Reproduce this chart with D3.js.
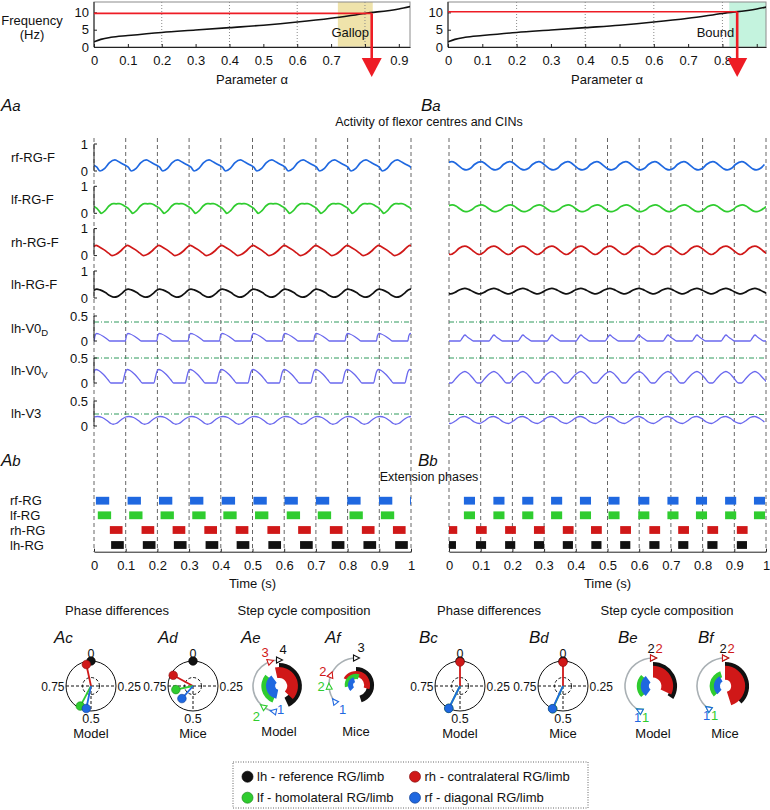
<!DOCTYPE html>
<html><head><meta charset="utf-8">
<script src="https://cdn.jsdelivr.net/npm/d3@7"></script>
<style>
body{margin:0;background:#fff;}
text{font-family:"Liberation Sans",Arial,Helvetica,sans-serif;fill:#111;}
</style></head><body>
<svg id="fig" width="770" height="810"></svg>
<script>
// ---------------- DATA ----------------
// Frequency vs parameter alpha
const alphaGrid = [0, 0.02, 0.05, 0.1, 0.2, 0.3, 0.4, 0.5, 0.6, 0.7, 0.8, 0.9, 0.935];
const freqCurve = [1.5, 2.2, 2.8, 3.3, 4.2, 4.9, 5.6, 6.3, 7.2, 8.3, 9.7, 11.0, 11.7];
const alphaTicks = [0, 0.1, 0.2, 0.3, 0.4, 0.5, 0.6, 0.7, 0.8, 0.9];
const alphaTickLabelsGallop = ["0","0.1","0.2","0.3","0.4","0.5","0.6","0.7","","0.9"];
const alphaTickLabelsBound  = ["0","0.1","0.2","0.3","0.4","0.5","0.6","0.7","0.8",""];
const alphaGridLines = [0.2, 0.4, 0.6, 0.8];
const freqTicks = [0, 5, 10];
const gaitNames = ["Gallop", "Bound"];
const gaitAlphaMax = [0.933, 0.927];
const gaitRegion = [[0.72, 0.823], [0.82, 0.927]];
const gaitFreq = [9.7, 10.2];
const gaitAlpha = [0.82, 0.843];

// Activity traces
const traceNames = ["rf-RG-F", "lf-RG-F", "rh-RG-F", "lh-RG-F"];
const cinNames = [["lh-V0", "D"], ["lh-V0", "V"], ["lh-V3", ""]];
const timeTicks = [0, 0.1, 0.2, 0.3, 0.4, 0.5, 0.6, 0.7, 0.8, 0.9, 1];
const gallopCycles = [-0.099, 0, 0.099, 0.198, 0.297, 0.396, 0.495, 0.594, 0.693, 0.792, 0.891, 0.99];
const boundCycles = [-0.0915, 0, 0.0915, 0.183, 0.2745, 0.366, 0.4575, 0.549, 0.6405, 0.732, 0.8235, 0.915];
// one cycle of each trace: [time offset in cycle (s), activity]
const gallopRf = [[0.019,0.00],[0.034,0.10],[0.049,0.31],[0.066,0.41],[0.081,0.32],[0.097,0.22],[0.108,0.14]];
const gallopLf = [[0.023,0.00],[0.035,0.10],[0.048,0.28],[0.060,0.36],[0.070,0.35],[0.080,0.36],[0.095,0.28],[0.108,0.18],[0.116,0.07]];
const gallopRh = [[0.057,0.00],[0.070,0.05],[0.085,0.18],[0.098,0.33],[0.1055,0.38],[0.115,0.33],[0.130,0.22],[0.145,0.09]];
const gallopLh = [[0.063,0.03],[0.075,0.06],[0.088,0.17],[0.100,0.30],[0.108,0.33],[0.118,0.30],[0.135,0.20],[0.150,0.08]];
const gallopV0D = [[0.000,0.00],[0.003,0.10],[0.008,0.15],[0.015,0.14],[0.030,0.09],[0.045,0.02],[0.050,0.00],[0.075,0.00]];
const gallopV0V = [[-0.009,0.00],[-0.004,0.12],[0.000,0.22],[0.006,0.27],[0.015,0.25],[0.030,0.17],[0.045,0.06],[0.053,0.00],[0.075,0.00]];
const gallopV3 = [[0.060,0.035],[0.070,0.05],[0.085,0.12],[0.100,0.18],[0.110,0.19],[0.125,0.17],[0.140,0.11],[0.152,0.05]];
const boundRf = [[0.0085,0.35],[0.020,0.30],[0.032,0.18],[0.045,0.07],[0.055,0.04],[0.068,0.10],[0.080,0.24]];
const boundLf = [[0.010,0.31],[0.022,0.27],[0.035,0.16],[0.048,0.07],[0.057,0.06],[0.070,0.12],[0.085,0.25]];
const boundRh = [[0.005,0.04],[0.018,0.12],[0.032,0.27],[0.050,0.35],[0.062,0.30],[0.075,0.18],[0.088,0.07]];
const boundLh = [[0.005,0.15],[0.018,0.20],[0.032,0.30],[0.050,0.36],[0.062,0.32],[0.075,0.24],[0.088,0.17]];
const boundV0D = [[0.035,0.00],[0.042,0.06],[0.050,0.12],[0.058,0.08],[0.067,0.04],[0.077,0.00],[0.100,0.00]];
const boundV0V = [[0.008,0.00],[0.020,0.08],[0.035,0.18],[0.050,0.23],[0.060,0.20],[0.075,0.10],[0.090,0.00]];
const boundV3 = [[0.005,0.05],[0.020,0.10],[0.035,0.17],[0.050,0.19],[0.065,0.15],[0.080,0.08]];
const gallopThresholds = [0.38, 0.50, 0.24];
const boundThresholds = [0.38, 0.50, 0.23];

// Extension phases (onset times, s) and durations
const extNames = ["rf-RG", "lf-RG", "rh-RG", "lh-RG"];
const gallopExtRf = [0.006,0.106,0.205,0.303,0.403,0.503,0.601,0.700,0.799,0.899,0.997];
const gallopExtLf = [0.012,0.111,0.210,0.310,0.408,0.508,0.608,0.706,0.806,0.905];
const gallopExtRh = [0.050,0.150,0.248,0.348,0.447,0.547,0.644,0.744,0.845,0.943];
const gallopExtLh = [0.054,0.154,0.252,0.352,0.450,0.550,0.650,0.750,0.850,0.950];
const gallopExtDur = [0.042, 0.042, 0.040, 0.040];
const boundExtRf = [0.047,0.140,0.231,0.322,0.413,0.503,0.597,0.689,0.779,0.871,0.962];
const boundExtLf = [0.047,0.140,0.231,0.322,0.413,0.503,0.597,0.689,0.779,0.871,0.962];
const boundExtRh = [-0.008,0.085,0.177,0.268,0.359,0.448,0.540,0.632,0.723,0.815,0.908];
const boundExtLh = [-0.010,0.085,0.177,0.268,0.359,0.449,0.540,0.632,0.723,0.815,0.908];
const boundExtDur = [0.035, 0.035, 0.034, 0.032];

// Phase differences: [limb, phase, vector length]
const phaseGallopModel = [["lh",0,1.0],["rh",0.966,0.88],["lf",0.578,0.91],["rf",0.533,0.92]];
const phaseGallopMice  = [["lh",0,1.0],["rh",0.829,0.90],["lf",0.717,0.70],["rf",0.615,0.67]];
const phaseBoundModel  = [["lh",0,1.0],["rh",0.0,0.96],["lf",0.574,1.0],["rf",0.574,1.0]];
const phaseBoundMice   = [["lh",0,1.0],["rh",0.0,0.95],["lf",0.567,1.0],["rf",0.569,1.0]];

// Step cycle composition: [limb, start phase, end phase, inner r frac, outer r frac]
const stepGallopModel = [["lh",0,0.43,0.50,0.88],["rh",-0.034,0.37,0.31,0.73],["lf",0.56,0.86,0.40,0.68],["rf",0.533,0.90,0.15,0.50]];
const stepGallopMice  = [["lh",0,0.45,0.42,0.67],["rh",-0.17,0.30,0.30,0.52],["lf",0.72,1.05,0.22,0.42],["rf",0.62,0.95,0.11,0.30]];
const stepBoundModel  = [["lh",0,0.34,0.62,0.86],["rh",0,0.32,0.30,0.72],["lf",0.63,0.87,0.36,0.58],["rf",0.60,0.90,0.15,0.44]];
const stepBoundMice   = [["lh",0,0.38,0.60,0.86],["rh",0,0.45,0.22,0.72],["lf",0.63,0.95,0.33,0.55],["rf",0.62,0.92,0.18,0.40]];
// touchdown markers: [limb, phase, order label]
const markGallopModel = [["lh",0,"4"],["rh",0.945,"3"],["lf",0.603,"2"],["rf",0.533,"1"]];
const markGallopMice  = [["lh",0,"3"],["rh",0.81,"2"],["lf",0.74,"2"],["rf",0.645,"1"]];
const markBoundModel  = [["lh",0,"2"],["rh",0,"2"],["lf",0.579,"1"],["rf",0.579,"1"]];
const markBoundMice   = [["lh",0,"2"],["rh",0,"2"],["lf",0.60,"1"],["rf",0.60,"1"]];

const legendItems = [["lh","lh - reference RG/limb"],["rh","rh - contralateral RG/limb"],["lf","lf - homolateral RG/limb"],["rf","rf - diagonal RG/limb"]];

// ---------------- STYLE ----------------
const col = {rf:"#1f68e0", lf:"#2fcc2f", rh:"#d01818", lh:"#111111"};
const colDark = {rf:"#0f3f95", lf:"#188a18", rh:"#8a0d0d", lh:"#000"};
const cinColor = "#6a68ee";
const thrColor = "#2e9a5c";
const FONT = "'Liberation Sans', Arial, Helvetica, sans-serif";

const svg = d3.select("#fig");
svg.append("rect").attr("width",770).attr("height",810).attr("fill","#fff");
const defs = svg.append("defs");

function styleAxis(g){
  g.attr("font-size",13).attr("font-family",FONT);
  g.selectAll(".domain").attr("stroke","#222");
  g.selectAll(".tick line").attr("stroke","#222");
}

// ---------------- FREQUENCY PANELS ----------------
const freqPanels = [{x0:94,x1:410,shade:"#efe3ab",labels:alphaTickLabelsGallop},{x0:448,x1:766,shade:"#c4f3de",labels:alphaTickLabelsBound}];
const fy = d3.scaleLinear().domain([0,13]).range([47,2]);
freqPanels.forEach((p,i)=>{
  const fx = d3.scaleLinear().domain([0,gaitAlphaMax[i]]).range([p.x0,p.x1]);
  const g = svg.append("g");
  g.append("rect").attr("x",fx(gaitRegion[i][0])).attr("y",fy(13))
    .attr("width",fx(gaitRegion[i][1])-fx(gaitRegion[i][0])).attr("height",fy(0)-fy(13)).attr("fill",p.shade);
  g.selectAll(".gl").data(alphaGridLines).enter().append("line")
    .attr("x1",d=>fx(d)).attr("x2",d=>fx(d)).attr("y1",fy(13)).attr("y2",fy(0))
    .attr("stroke","#8a8a8a").attr("stroke-width",1).attr("stroke-dasharray","1,2");
  g.append("rect").attr("x",p.x0).attr("y",fy(13)).attr("width",p.x1-p.x0).attr("height",fy(0)-fy(13))
    .attr("fill","none").attr("stroke","#8c8c8c").attr("stroke-width",1);
  const line = d3.line().x((d,k)=>fx(alphaGrid[k])).y(d=>fy(d)).curve(d3.curveMonotoneX);
  const clipId = "fclip"+i;
  defs.append("clipPath").attr("id",clipId).append("rect").attr("x",p.x0).attr("y",0).attr("width",p.x1-p.x0).attr("height",50);
  g.append("path").attr("d",line(freqCurve)).attr("fill","none").attr("stroke","#111").attr("stroke-width",1.6).attr("clip-path",`url(#${clipId})`);
  const xa = g.append("g").attr("transform",`translate(0,${fy(0)})`)
    .call(d3.axisBottom(fx).tickValues(alphaTicks).tickSize(-3).tickSizeOuter(0).tickPadding(9).tickFormat((d,k)=>p.labels[k]));
  styleAxis(xa);
  const ya = g.append("g").attr("transform",`translate(${p.x0},0)`)
    .call(d3.axisLeft(fy).tickValues(freqTicks).tickSize(-3).tickSizeOuter(0).tickPadding(5));
  styleAxis(ya);
  ya.select(".domain").attr("d",`M0,${fy(0)}V${fy(13)}`);
  // red marker line + arrow
  const ax = fx(gaitAlpha[i]), ay = fy(gaitFreq[i]);
  g.append("line").attr("x1",p.x0).attr("x2",ax).attr("y1",ay).attr("y2",ay).attr("stroke","#ee1c25").attr("stroke-width",1.6);
  g.append("line").attr("x1",ax).attr("x2",ax).attr("y1",ay).attr("y2",60).attr("stroke","#ee1c25").attr("stroke-width",2.6);
  g.append("path").attr("d",`M${ax-10},58L${ax+10},58L${ax},77Z`).attr("fill","#ee1c25");
  g.append("text").attr("x", i===0 ? fx((gaitRegion[i][0]+gaitRegion[i][1])/2)-5 : fx(gaitRegion[i][0])+5)
    .attr("y",36.5).attr("text-anchor", i===0?"middle":"end").attr("font-size",13).text(gaitNames[i]);
  g.append("text").attr("x",(p.x0+p.x1)/2).attr("y",84).attr("text-anchor","middle").attr("font-size",13).text("Parameter α");
});
svg.append("text").attr("x",32).attr("y",25).attr("text-anchor","middle").attr("font-size",13).text("Frequency");
svg.append("text").attr("x",32).attr("y",39).attr("text-anchor","middle").attr("font-size",13).text("(Hz)");

// ---------------- PANEL LABELS & TITLES ----------------
function panelLabel(x,y,a,b){
  const t = svg.append("text").attr("x",x).attr("y",y).attr("font-size",17).attr("font-style","italic");
  t.append("tspan").text(a);
  t.append("tspan").attr("font-size",15).text(b);
}
panelLabel(1,111,"A","a"); panelLabel(421,111,"B","a");
panelLabel(1,466,"A","b"); panelLabel(418,466,"B","b");
svg.append("text").attr("x",429).attr("y",126).attr("text-anchor","middle").attr("font-size",12.5).text("Activity of flexor centres and CINs");
svg.append("text").attr("x",429).attr("y",481).attr("text-anchor","middle").attr("font-size",12.5).text("Extension phases");

// ---------------- ACTIVITY TRACES ----------------
const rgTop = [144, 186.3, 228.6, 271];   // y of value 1
const rgScale = 27;                        // px per unit
const cinTop = [316, 358, 401];            // y of value 0.5
const cinScale = 50;
const tracePanels = [
  {x0:94, x1:411, cycles:gallopCycles, rg:[gallopRf,gallopLf,gallopRh,gallopLh], cin:[gallopV0D,gallopV0V,gallopV3], thr:gallopThresholds,
   ext:[gallopExtRf,gallopExtLf,gallopExtRh,gallopExtLh], dur:gallopExtDur, axes:true},
  {x0:449, x1:766, cycles:boundCycles, rg:[boundRf,boundLf,boundRh,boundLh], cin:[boundV0D,boundV0V,boundV3], thr:boundThresholds,
   ext:[boundExtRf,boundExtLf,boundExtRh,boundExtLh], dur:boundExtDur, axes:false}
];
const rgColors = [col.rf, col.lf, col.rh, col.lh];
function buildSeries(cycles, tmpl){
  const pts = [];
  cycles.forEach(c=>tmpl.forEach(([dt,v])=>pts.push([c+dt,v])));
  pts.sort((a,b)=>a[0]-b[0]);
  return pts;
}
tracePanels.forEach((P,pi)=>{
  const tx = d3.scaleLinear().domain([0,1]).range([P.x0,P.x1]);
  const clipId = "tclip"+pi;
  defs.append("clipPath").attr("id",clipId).append("rect").attr("x",P.x0).attr("y",100).attr("width",P.x1-P.x0).attr("height",500);
  const g = svg.append("g");
  g.selectAll(".vg").data(timeTicks).enter().append("line")
    .attr("x1",d=>tx(d)).attr("x2",d=>tx(d)).attr("y1",138).attr("y2",552)
    .attr("stroke","#555").attr("stroke-width",0.9).attr("stroke-dasharray","4,3");
  P.rg.forEach((tmpl,k)=>{
    const y = d3.scaleLinear().domain([0,1]).range([rgTop[k]+rgScale, rgTop[k]]);
    const line = d3.line().x(d=>tx(d[0])).y(d=>y(d[1])).curve(d3.curveMonotoneX);
    g.append("path").attr("d",line(buildSeries(P.cycles,tmpl))).attr("fill","none")
      .attr("stroke",rgColors[k]).attr("stroke-width",1.7).attr("clip-path",`url(#${clipId})`);
    if(P.axes){
      g.append("line").attr("x1",P.x0).attr("x2",P.x0).attr("y1",y(1)).attr("y2",y(0)).attr("stroke","#222");
      [0,1].forEach(v=>{
        g.append("line").attr("x1",P.x0).attr("x2",P.x0+3).attr("y1",y(v)).attr("y2",y(v)).attr("stroke","#222");
        g.append("text").attr("x",P.x0-6).attr("y",y(v)+4.5).attr("text-anchor","end").attr("font-size",13).text(v);
      });
      g.append("text").attr("x",11).attr("y",y(0.5)+4.5).attr("font-size",13).text(traceNames[k]);
    }
  });
  P.cin.forEach((tmpl,k)=>{
    const y = d3.scaleLinear().domain([0,0.5]).range([cinTop[k]+cinScale*0.5, cinTop[k]]);
    g.append("line").attr("x1",P.x0).attr("x2",P.x1).attr("y1",y(P.thr[k])).attr("y2",y(P.thr[k]))
      .attr("stroke",thrColor).attr("stroke-width",1).attr("stroke-dasharray","5,2,1,2");
    const line = d3.line().x(d=>tx(d[0])).y(d=>y(d[1])).curve(d3.curveMonotoneX);
    g.append("path").attr("d",line(buildSeries(P.cycles,tmpl))).attr("fill","none")
      .attr("stroke",cinColor).attr("stroke-width",1.3).attr("clip-path",`url(#${clipId})`);
    if(P.axes){
      g.append("line").attr("x1",P.x0).attr("x2",P.x0).attr("y1",y(0.5)).attr("y2",y(0)).attr("stroke","#222");
      [0,0.5].forEach(v=>{
        g.append("line").attr("x1",P.x0).attr("x2",P.x0+3).attr("y1",y(v)).attr("y2",y(v)).attr("stroke","#222");
        g.append("text").attr("x",P.x0-6).attr("y",y(v)+4.5).attr("text-anchor","end").attr("font-size",13).text(v);
      });
      const t = g.append("text").attr("x",11).attr("y",y(0.25)+4.5).attr("font-size",13);
      t.append("tspan").text(cinNames[k][0]);
      if(cinNames[k][1]) t.append("tspan").attr("font-size",9.5).attr("dy",3).text(cinNames[k][1]);
    }
  });
  const rowY = [500.7, 515.3, 530, 545];
  P.ext.forEach((ons,k)=>{
    g.selectAll(null).data(ons).enter().append("rect")
      .attr("x",d=>tx(d)).attr("width",d=>tx(d+P.dur[k])-tx(d))
      .attr("y",rowY[k]-3.9).attr("height",7.8).attr("fill",rgColors[k]).attr("clip-path",`url(#${clipId})`);
    if(P.axes) g.append("text").attr("x",10).attr("y",rowY[k]+4.5).attr("font-size",13).text(extNames[k]);
  });
  const xa = g.append("g").attr("transform","translate(0,551.7)")
    .call(d3.axisBottom(tx).tickValues(timeTicks).tickSize(-3).tickSizeOuter(0).tickPadding(9).tickFormat(d=>String(d)));
  styleAxis(xa);
  g.append("text").attr("x",(P.x0+P.x1)/2).attr("y",588).attr("text-anchor","middle").attr("font-size",13).text("Time (s)");
});

// ---------------- BOTTOM: PHASE DIFFERENCES ----------------
svg.append("text").attr("x",117).attr("y",614.5).attr("text-anchor","middle").attr("font-size",13).text("Phase differences");
svg.append("text").attr("x",304).attr("y",614.5).attr("text-anchor","middle").attr("font-size",13).text("Step cycle composition");
svg.append("text").attr("x",489).attr("y",614.5).attr("text-anchor","middle").attr("font-size",13).text("Phase differences");
svg.append("text").attr("x",667).attr("y",614.5).attr("text-anchor","middle").attr("font-size",13).text("Step cycle composition");
panelLabel(54,643,"A","c"); panelLabel(158,643,"A","d"); panelLabel(241,643,"A","e"); panelLabel(325,643,"A","f");
panelLabel(419,643,"B","c"); panelLabel(529,643,"B","d"); panelLabel(618,643,"B","e"); panelLabel(698,643,"B","f");

function phasePlot(cx, cy, R, vecs, caption){
  const g = svg.append("g");
  g.append("circle").attr("cx",cx).attr("cy",cy).attr("r",R).attr("fill","none").attr("stroke","#111").attr("stroke-width",1);
  const dash = "3,2";
  g.append("line").attr("x1",cx-R).attr("x2",cx+R).attr("y1",cy).attr("y2",cy).attr("stroke","#111").attr("stroke-dasharray",dash);
  g.append("line").attr("x1",cx).attr("x2",cx).attr("y1",cy).attr("y2",cy+R).attr("stroke","#111").attr("stroke-dasharray",dash);
  g.append("circle").attr("cx",cx).attr("cy",cy).attr("r",R*0.34).attr("fill","none").attr("stroke","#111").attr("stroke-dasharray",dash);
  g.append("text").attr("x",cx).attr("y",cy-R-3).attr("text-anchor","middle").attr("font-size",12.5).text("0");
  g.append("text").attr("x",cx+R+1.5).attr("y",cy+4.5).attr("font-size",12).text("0.25");
  g.append("text").attr("x",cx-R-1.5).attr("y",cy+4.5).attr("text-anchor","end").attr("font-size",12).text("0.75");
  g.append("text").attr("x",cx).attr("y",cy+R+12).attr("text-anchor","middle").attr("font-size",12.5).text("0.5");
  g.append("text").attr("x",cx).attr("y",cy+R+27).attr("text-anchor","middle").attr("font-size",13).text(caption);
  vecs.forEach(([limb,ph,len])=>{
    const a = 2*Math.PI*ph;
    const x = cx + R*len*Math.sin(a), y = cy - R*len*Math.cos(a);
    if(limb!=="lh") g.append("line").attr("x1",cx).attr("y1",cy).attr("x2",x).attr("y2",y).attr("stroke",col[limb]).attr("stroke-width",1.8);
    g.append("circle").attr("cx",x).attr("cy",y).attr("r",4.3).attr("fill",col[limb]).attr("stroke",colDark[limb]).attr("stroke-width",0.6);
  });
}
phasePlot(91, 686, 25, phaseGallopModel, "Model");
phasePlot(193, 686, 25, phaseGallopMice, "Mice");
phasePlot(460, 686, 25, phaseBoundModel, "Model");
phasePlot(563, 686, 25, phaseBoundMice, "Mice");

// ---------------- BOTTOM: STEP CYCLE COMPOSITION ----------------
function stepPlot(cx, cy, R, arcs, marks, caption, labelOff){
  const g = svg.append("g").attr("transform",`translate(${cx},${cy})`);
  const firstMark = d3.min(marks.filter(m=>m[1]>0.01), m=>m[1]);
  const grayArc = d3.arc().innerRadius(R).outerRadius(R).startAngle(2*Math.PI*firstMark).endAngle(2*Math.PI);
  g.append("path").attr("d",grayArc()).attr("fill","none").attr("stroke","#a9b0b4").attr("stroke-width",1.6);
  arcs.forEach(([limb,s,e,r0,r1])=>{
    const a = d3.arc().innerRadius(R*r0).outerRadius(R*r1).startAngle(2*Math.PI*s).endAngle(2*Math.PI*e);
    g.append("path").attr("d",a()).attr("fill",col[limb]);
  });
  marks.forEach(([limb,ph,lab],k)=>{
    const a = 2*Math.PI*ph;
    const x = R*Math.sin(a), y = -R*Math.cos(a);
    const rot = ph*360;
    g.append("path").attr("d","M-2.5,-3L3.5,0L-2.5,3Z").attr("transform",`translate(${x},${y}) rotate(${rot})`)
      .attr("fill","#fff").attr("stroke",col[limb]).attr("stroke-width",1.1);
    const o = labelOff[k];
    g.append("text").attr("x",x+o[0]).attr("y",y+o[1]).attr("text-anchor","middle").attr("font-size",13)
      .style("fill",col[limb]).text(lab);
  });
  g.append("text").attr("x",0).attr("y",R+24).attr("text-anchor","middle").attr("font-size",13).text(caption);
}
stepPlot(279, 686, 26, stepGallopModel, markGallopModel, "Model", [[4,-6],[-5,-5],[-7,14],[7,3]]);
stepPlot(356, 685, 27, stepGallopMice, markGallopMice, "Mice", [[5,-6],[-8,1],[-8,4],[8,12]]);
stepPlot(653, 686, 28, stepBoundModel, markBoundModel, "Model", [[-2,-5],[6,-5],[6,11],[-2,11]]);
stepPlot(725, 686, 28, stepBoundMice, markBoundMice, "Mice", [[-2,-5],[6,-5],[6,11],[-2,11]]);

// ---------------- LEGEND ----------------
const lg = svg.append("g");
lg.append("rect").attr("x",233).attr("y",762).attr("width",355).attr("height",46)
  .attr("fill","none").attr("stroke","#555").attr("stroke-width",0.9).attr("stroke-dasharray","1,1.5");
const legPos = [[247.5,776.7],[415,776.7],[247.5,797.7],[415,797.7]];
legendItems.forEach(([limb,label],k)=>{
  lg.append("circle").attr("cx",legPos[k][0]).attr("cy",legPos[k][1]).attr("r",5.5).attr("fill",col[limb]).attr("stroke",colDark[limb]).attr("stroke-width",0.7);
  lg.append("text").attr("x",legPos[k][0]+9.5).attr("y",legPos[k][1]+4.6).attr("font-size",13).text(label);
});
</script>
</body></html>
